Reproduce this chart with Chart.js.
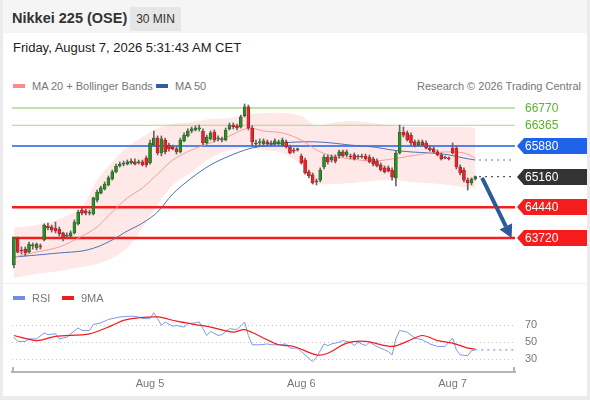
<!DOCTYPE html>
<html>
<head>
<meta charset="utf-8">
<script src="https://cdn.jsdelivr.net/npm/chart.js@4.4.0/dist/chart.umd.min.js"></script>
<style>
  html, body { margin: 0; padding: 0; }
  body { width: 590px; height: 400px; background: #ececec; font-family: "Liberation Sans", Arial, sans-serif; position: relative; overflow: hidden; }
  #panel { position: absolute; left: 3px; top: 0; width: 584px; height: 396px; background: #fff; }
  #head { position: absolute; left: 0; top: 0; width: 584px; height: 33px; background: #f5f5f5; }
  #title { position: absolute; left: 9px; top: 10px; font-size: 14.5px; font-weight: bold; color: #333; }
  #tf { position: absolute; left: 127px; top: 7px; width: 51px; height: 24px; line-height: 24px; text-align: center; background: #e6e6e6; font-size: 12px; color: #333; }
  #stamp { position: absolute; left: 10px; top: 40px; font-size: 13px; color: #222; }
  .leg { position: absolute; font-size: 11px; color: #777; line-height: 12px; }
  .sw { display: inline-block; width: 12px; height: 4px; vertical-align: middle; margin-right: 7px; position: relative; top: -1px; }
  #sep { position: absolute; left: 0; top: 283px; width: 584px; height: 1px; background: #eef0f4; }
  .box { position: absolute; left: 0; width: 590px; }
</style>
</head>
<body>
<div id="panel">
  <div id="head">
    <div id="title">Nikkei 225 (OSE)</div>
    <div id="tf">30 MIN</div>
  </div>
  <div id="stamp">Friday, August 7, 2026 5:31:43 AM CET</div>
  <div class="leg" style="left:10px; top:80px;"><span class="sw" style="background:#ff8a8a"></span>MA 20 + Bollinger Bands</div>
  <div class="leg" style="left:153px; top:80px;"><span class="sw" style="background:#2f5d9e"></span>MA 50</div>
  <div class="leg" style="right:6px; top:80px;">Research © 2026 Trading Central</div>
  <div id="sep"></div>
</div>
<div class="box" style="top:95px; height:190px;"><canvas id="priceChart"></canvas></div>
<div class="box" style="top:284px; height:111px;"><canvas id="rsiChart"></canvas></div>
<div class="leg" style="left:13px; top:292px; z-index:2;"><span class="sw" style="background:#6f8fe6"></span>RSI</div>
<div class="leg" style="left:62px; top:292px; z-index:2;"><span class="sw" style="background:#f01c1c"></span>9MA</div>

<script>
// 30 min candles, index 0 = first candle on the left
const candleO = [63090,63720,63440,63460,63390,63555,63485,63535,63675,64000,
  63980,63955,63930,63840,63765,63765,63840,64050,64375,64355,
  64305,64285,64610,64775,64870,64965,65105,65270,65410,65455,
  65455,65480,65505,65480,65505,65595,65480,65900,66065,65715,
  66020,65900,65855,65810,65740,66000,66115,66230,66255,66280,
  66230,65950,66045,66205,66045,66020,66020,66280,66370,66350,
  66325,66585,66795,66300,65950,65950,65925,65975,65950,65925,
  65925,65900,65975,65855,65785,65785,65645,65550,65270,65200,
  65035,65080,65385,65620,65550,65620,65645,65740,65670,65645,
  65670,65620,65645,65645,65620,65575,65525,65435,65365,65365,
  65315,65130,65715,66205,66185,66135,65975,65900,65975,65950,
  65830,65810,65740,65670,65595,65595,65830,65830,65385,65315,
  65080,65010,65105];
const candleH = [63745,63745,63510,63510,63625,63605,63605,63580,64050,64070,
  64025,64095,63980,63860,63840,63885,64145,64375,64425,64400,
  64375,64680,64845,64940,65035,65175,65315,65455,65505,65525,
  65550,65575,65575,65550,65550,65645,66020,66230,66115,66115,
  66065,65950,65900,65855,66065,66185,66280,66325,66350,66370,
  66280,66135,66230,66255,66115,66090,66300,66420,66420,66395,
  66605,66865,66840,66350,66020,66045,66045,66020,66000,66045,
  66020,66065,66020,65900,65830,65830,65690,65595,65315,65245,
  65105,65365,65670,65670,65670,65670,65785,65785,65785,65690,
  65715,65670,65690,65690,65670,65620,65575,65480,65410,65410,
  65365,65760,66370,66325,66230,66185,66020,66020,66020,66000,
  65880,65855,65785,65715,65645,65620,65950,65880,65435,65365,
  65130,65130,65175];
const candleL = [63020,63370,63345,63300,63370,63460,63440,63460,63650,63910,
  63860,63840,63765,63650,63720,63745,63815,64025,64260,64260,
  64260,64260,64565,64755,64845,64940,65080,65245,65385,65410,
  65435,65455,65435,65455,65410,65385,65455,65880,65670,65645,
  65690,65760,65785,65690,65715,65975,66090,66185,66230,66230,
  65900,65925,66020,65975,66000,65975,66000,66255,66280,66255,
  66300,66560,66255,65880,65855,65880,65880,65900,65880,65900,
  65900,65880,65830,65690,65715,65760,65455,65220,65130,64985,
  64965,65035,65340,65455,65505,65480,65595,65620,65620,65575,
  65550,65575,65595,65550,65480,65410,65385,65290,65245,65270,
  65080,64940,65690,66090,65995,65900,65855,65880,65880,65810,
  65760,65715,65645,65550,65575,65550,65690,65340,65200,65035,
  64845,64965,65080];
const candleC = [63720,63390,63415,63370,63580,63535,63580,63510,64025,63955,
  63910,63885,63815,63720,63790,63840,64095,64330,64305,64305,
  64330,64660,64800,64895,64985,65130,65270,65410,65455,65480,
  65505,65525,65455,65505,65435,65435,65950,66065,65715,66045,
  65740,65810,65810,65740,66020,66135,66230,66280,66300,66300,
  65950,66090,66185,66020,66065,66045,66255,66370,66325,66300,
  66560,66795,66300,65975,65925,65975,66000,65925,65925,66000,
  65975,66020,65855,65715,65760,65810,65480,65245,65175,65010,
  65060,65315,65620,65505,65620,65525,65740,65645,65740,65620,
  65575,65645,65620,65575,65505,65455,65410,65315,65270,65290,
  65150,65715,66205,66135,66020,65950,65900,65975,65900,65830,
  65785,65740,65670,65575,65610,65575,65715,65385,65245,65080,
  65010,65105,65160];

// indicator lines read at these candle indexes
const bandX   = [0,6,12,18,22,26,30,34,38,42,47,52,57,62,66,71,76,80,84,89,95,100,105,110,115,119,122];
const bbUpper = [63955,64025,64165,64450,65080,65505,65855,66090,66300,66395,66440,66510,66535,66630,66655,66655,66585,66350,66420,66465,66420,66350,66325,66325,66325,66325,66300];
const bbLower = [62780,62875,62945,63040,63110,63250,63485,63955,64495,64965,65270,65595,65785,65830,65785,65715,65435,65010,64985,65010,65060,65080,65035,65010,64965,64915,64895];
const ma20    = [63275,63390,63510,63765,63980,64330,64660,64895,65220,65550,65785,65950,66115,66300,66230,66185,66020,65785,65645,65575,65525,65575,65645,65715,65740,65715,65595];
const ma50    = [63275,63320,63370,63415,63510,63675,63885,64070,64330,64755,65130,65435,65645,65810,65880,65950,65975,65975,65950,65900,65855,65785,65740,65715,65670,65595,65550];

// RSI panel
const rsiX   = [0,1,3,4,6,8,9,11,12,14,15,17,18,20,21,23,25,28,31,33,34,36,37,38,39,40,42,43,45,46,48,49,51,52,54,55,57,59,61,62,63,65,67,68,70,72,73,75,76,78,79,80,82,83,84,86,87,89,90,91,93,94,96,98,99,100,101,102,104,106,108,110,112,114,116,117,118,120,121,122];
const rsiVal = [56,51,51,54,54,61,59,60,54,56,60,67,64,64,71,73,77,80,81,80,78,78,85,78,70,74,69,70,68,72,73,74,58,63,58,59,66,65,74,58,47,47,48,47,47,48,43,43,39,31,27,32,48,46,48,50,52,50,46,50,46,50,45,41,39,35,54,64,62,55,53,48,45,45,55,41,35,34,40,41];
const ma9X   = [0,6,11,20,26,29,33,38,43,48,52,58,61,66,70,74,80,83,88,93,100,104,108,112,116,120,122];
const ma9Val = [58,52,57,60,70,76,79,80,75,71,68,62,65,55,47,45,35,37,49,51,45,51,58,52,49,43,42];
const rsiTicks = [30, 50, 70];

// key levels
const resistances = [66770, 66365];
const pivot = 65880;
const supports = [64440, 63720];
const lastPrice = candleC[candleC.length - 1];
const arrowPath = [[123.8, 65130], [131.6, 63720]];

const tickPos = [36, 76, 116];
const tickLabels = ['Aug 5', 'Aug 6', 'Aug 7'];

const X_MIN = -0.5, X_MAX = 132.5;
const lastIdx = candleC.length - 1;

function pts(xs, ys) { return xs.map((x, i) => ({ x: x, y: ys[i] })); }
function hline(v) { return [{ x: X_MIN, y: v }, { x: X_MAX, y: v }]; }

const up = candleC.map((c, i) => c >= candleO[i]);
const bodyFill = up.map(u => u ? '#2f8a2a' : '#e3262b');
const bodyEdge = up.map(u => u ? '#1d5a1a' : '#9a1518');

function lineDs(data, color, width, order, extra) {
  return Object.assign({ type: 'line', data: data, borderColor: color, borderWidth: width,
    pointRadius: 0, fill: false, tension: 0.3, order: order }, extra || {});
}

const levelLabels = [
  { v: resistances[0], text: '#5cb22c' },
  { v: resistances[1], text: '#5cb22c' },
  { v: pivot, box: '#1e63ea' },
  { v: lastPrice, box: '#333333' },
  { v: supports[0], box: '#f41c1c' },
  { v: supports[1], box: '#f41c1c' }
];

const labelPlugin = {
  id: 'levels',
  afterDatasetsDraw(chart) {
    const ctx = chart.ctx, xs = chart.scales.x, ys = chart.scales.y;
    const right = chart.chartArea.right;
    ctx.save();
    // arrow
    const x0 = xs.getPixelForValue(arrowPath[0][0]), y0 = ys.getPixelForValue(arrowPath[0][1]);
    const x1 = xs.getPixelForValue(arrowPath[1][0]), y1 = ys.getPixelForValue(arrowPath[1][1]);
    const ang = Math.atan2(y1 - y0, x1 - x0);
    const hl = 13, hw = 7;
    const bx = x1 - hl * Math.cos(ang), by = y1 - hl * Math.sin(ang);
    ctx.strokeStyle = '#2c5a9a'; ctx.fillStyle = '#2c5a9a'; ctx.lineWidth = 4;
    ctx.beginPath(); ctx.moveTo(x0, y0); ctx.lineTo(bx, by); ctx.stroke();
    ctx.beginPath();
    ctx.moveTo(x1, y1);
    ctx.lineTo(bx + hw * Math.sin(ang), by - hw * Math.cos(ang));
    ctx.lineTo(bx - hw * Math.sin(ang), by + hw * Math.cos(ang));
    ctx.closePath(); ctx.fill();

    ctx.font = '12px "Liberation Sans", Arial, sans-serif';
    ctx.textBaseline = 'middle';
    levelLabels.forEach(l => {
      const y = Math.round(ys.getPixelForValue(l.v));
      if (l.box) {
        ctx.fillStyle = l.box;
        ctx.beginPath();
        ctx.moveTo(right + 2, y);
        ctx.lineTo(right + 9, y - 8);
        ctx.lineTo(587, y - 8);
        ctx.lineTo(587, y + 8);
        ctx.lineTo(right + 9, y + 8);
        ctx.closePath(); ctx.fill();
        ctx.fillStyle = '#fff';
      } else {
        ctx.fillStyle = l.text;
      }
      ctx.fillText(String(l.v), right + 10, y + 0.5);
    });
    ctx.restore();
  }
};

new Chart(document.getElementById('priceChart'), {
  type: 'bar',
  data: {
    datasets: [
      lineDs(pts(bandX, bbUpper), 'rgba(0,0,0,0)', 0, 20),
      lineDs(pts(bandX, bbLower), 'rgba(0,0,0,0)', 0, 19, { fill: '-1', backgroundColor: 'rgba(252,200,200,0.42)' }),
      lineDs(hline(resistances[0]), '#86c35a', 1, 10, { tension: 0 }),
      lineDs(hline(resistances[1]), '#aed68f', 1, 10, { tension: 0 }),
      lineDs(hline(pivot), '#1f5fe6', 1.4, 10, { tension: 0 }),
      lineDs(hline(supports[0]), '#f41c1c', 2.5, 10, { tension: 0 }),
      lineDs(hline(supports[1]), '#f41c1c', 2.5, 10, { tension: 0 }),
      lineDs(pts(bandX, ma20), '#f79c9c', 1, 8),
      lineDs(pts(bandX, ma50), '#4a70b8', 1, 8),
      lineDs([{ x: lastIdx + 1, y: ma50[ma50.length - 1] }, { x: X_MAX, y: ma50[ma50.length - 1] }], '#4a70b8', 1.2, 8, { borderDash: [2, 4], tension: 0 }),
      lineDs([{ x: lastIdx + 1, y: lastPrice }, { x: X_MAX, y: lastPrice }], '#555', 1.2, 8, { borderDash: [2, 4], tension: 0 }),
      { type: 'bar', data: candleL.map((l, i) => ({ x: i, y: [l, candleH[i]] })), backgroundColor: '#666', barThickness: 1, grouped: false, order: 2 },
      { type: 'bar', data: candleO.map((o, i) => ({ x: i, y: [o, candleC[i]] })), backgroundColor: bodyFill, borderColor: bodyEdge, borderWidth: 0.6, borderSkipped: false, barThickness: 3, minBarLength: 1, grouped: false, order: 1 }
    ]
  },
  options: {
    responsive: true, maintainAspectRatio: false, animation: false,
    layout: { padding: { left: 12, right: 75, top: 0, bottom: 0 } },
    plugins: { legend: { display: false }, tooltip: { enabled: false } },
    scales: {
      x: { type: 'linear', min: X_MIN, max: X_MAX, offset: false, display: false },
      y: { min: 62618, max: 67075, display: false }
    }
  },
  plugins: [labelPlugin]
});

const capPlugin = {
  id: 'caps',
  afterDraw(chart) {
    const ctx = chart.ctx, a = chart.chartArea;
    ctx.save();
    ctx.strokeStyle = '#b5b5b5'; ctx.lineWidth = 2;
    ctx.beginPath();
    ctx.moveTo(a.left + 1, a.bottom); ctx.lineTo(a.left + 1, a.bottom - 5);
    ctx.moveTo(a.right - 1, a.bottom); ctx.lineTo(a.right - 1, a.bottom - 5);
    ctx.stroke();
    ctx.restore();
  }
};

new Chart(document.getElementById('rsiChart'), {
  type: 'line',
  data: {
    datasets: [
      lineDs(pts(ma9X, ma9Val), '#f01c1c', 1.2, 1),
      lineDs(pts(rsiX, rsiVal), '#7d98ea', 1, 2, { tension: 0 }),
      lineDs([{ x: lastIdx, y: rsiVal[rsiVal.length - 1] }, { x: X_MAX, y: rsiVal[rsiVal.length - 1] }], '#7d98ea', 1.2, 2, { borderDash: [2, 4], tension: 0 })
    ]
  },
  options: {
    responsive: true, maintainAspectRatio: false, animation: false,
    layout: { padding: { left: 12, right: 0, top: 0, bottom: 0 } },
    plugins: { legend: { display: false }, tooltip: { enabled: false } },
    scales: {
      x: {
        type: 'linear', min: X_MIN, max: X_MAX,
        afterBuildTicks: s => { s.ticks = tickPos.map(v => ({ value: v })); },
        afterFit: s => { s.height = 23; },
        grid: { display: false, drawTicks: false },
        border: { display: true, color: '#b5b5b5', width: 2 },
        ticks: { padding: 5, color: '#777', font: { size: 11, family: '"Liberation Sans", Arial, sans-serif' },
          maxRotation: 0, autoSkip: false,
          callback: v => tickLabels[tickPos.indexOf(v)] }
      },
      y: {
        position: 'right', min: 14.7, max: 99.4,
        afterBuildTicks: s => { s.ticks = rsiTicks.map(v => ({ value: v })); },
        afterFit: s => { s.width = 75; },
        grid: { color: '#c8c8c8', drawTicks: false },
        border: { display: false, dash: [1, 3] },
        ticks: { padding: 10, color: '#777', font: { size: 11, family: '"Liberation Sans", Arial, sans-serif' } }
      }
    }
  },
  plugins: [capPlugin]
});
</script>
</body>
</html>
